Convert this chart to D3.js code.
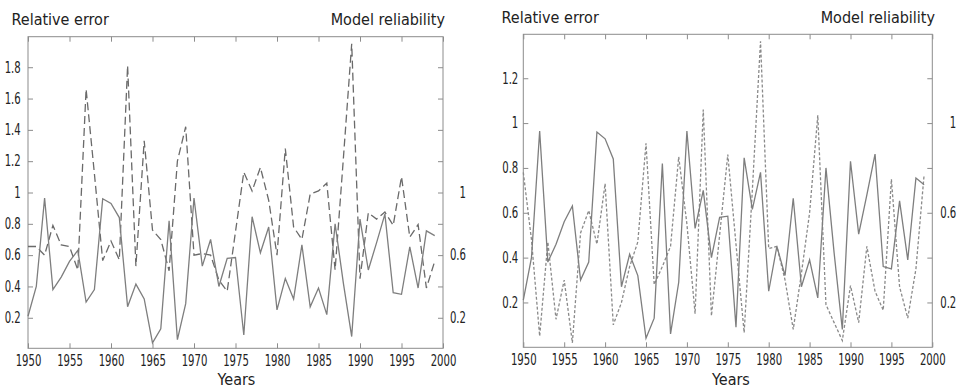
<!DOCTYPE html>
<html><head><meta charset="utf-8">
<script src="https://cdn.jsdelivr.net/npm/d3@7"></script>
<style>
body{margin:0;background:#fff}
svg{display:block}
text{font-family:"DejaVu Sans Condensed","DejaVu Sans",sans-serif;fill:#222}
</style>
</head><body>
<svg id="c" width="959" height="392"></svg>
<script>
const years=[1950,1951,1952,1953,1954,1955,1956,1957,1958,1959,1960,1961,1962,1963,1964,1965,1966,1967,1968,1969,1970,1971,1972,1973,1974,1975,1976,1977,1978,1979,1980,1981,1982,1983,1984,1985,1986,1987,1988,1989,1990,1991,1992,1993,1994,1995,1996,1997,1998,1999];
const relativeError=[0.21,0.40,0.965,0.38,0.46,0.56,0.63,0.30,0.38,0.96,0.93,0.84,0.27,0.415,0.32,0.04,0.13,0.82,0.06,0.29,0.965,0.53,0.70,0.40,0.58,0.585,0.09,0.845,0.615,0.78,0.25,0.45,0.32,0.665,0.27,0.39,0.22,0.80,0.42,0.08,0.83,0.505,0.68,0.862,0.36,0.35,0.653,0.39,0.755,0.725];
const reliabilityLeft=[0.655,0.655,0.60,0.79,0.665,0.655,0.505,1.66,1.12,0.565,0.69,0.57,1.81,0.53,1.33,0.76,0.70,0.50,1.20,1.42,0.60,0.61,0.60,0.44,0.37,0.75,1.13,1.01,1.16,0.95,0.60,1.28,0.78,0.70,0.99,1.01,1.06,0.505,1.22,1.95,0.45,0.87,0.83,0.875,0.79,1.10,0.715,0.795,0.39,0.56];
const reliabilityRight=[0.78,0.48,0.05,0.47,0.125,0.30,0.02,0.51,0.61,0.46,0.73,0.10,0.20,0.36,0.47,0.91,0.28,0.36,0.45,0.85,0.55,0.15,1.06,0.14,0.50,0.86,0.46,0.065,0.70,1.365,0.44,0.45,0.30,0.08,0.33,0.60,1.035,0.19,0.11,0.03,0.275,0.11,0.45,0.25,0.165,0.75,0.27,0.13,0.35,0.77];
const xTicks=[1950,1955,1960,1965,1970,1975,1980,1985,1990,1995,2000];
const yTicksLeftPanel=[0.2,0.4,0.6,0.8,1,1.2,1.4,1.6,1.8];
const yTicksRightPanel=[0.2,0.4,0.6,0.8,1,1.2];
const reliabilityLabels=[0.2,0.6,1];
const titleLeft="Relative error", titleRight="Model reliability", xTitle="Years";

const svg=d3.select("#c");
const axisColor="#8c8c8c";
const fmt=d3.format("~g");
const sx=0.75;

function panel(cfg){
  const x=d3.scaleLinear().domain([1950,2000]).range([cfg.x0,cfg.x1]);
  const y=d3.scaleLinear().domain(cfg.yDomain).range([cfg.yb,cfg.yt]);
  const g=svg.append("g");
  const styleAxis=a=>{
    a.select(".domain").remove();
    a.selectAll(".tick line").attr("stroke",axisColor);
    a.selectAll("text").attr("font-size",15).attr("fill","#222")
      .attr("font-family",'"DejaVu Sans Condensed","DejaVu Sans",sans-serif')
      .attr("transform",`scale(${sx},1)`);
  };
  g.append("g").attr("transform",`translate(0,${cfg.yb})`)
    .call(d3.axisBottom(x).tickValues(xTicks).tickFormat(d3.format("d")).tickSize(-5).tickPadding(7))
    .call(styleAxis);
  g.append("g").attr("transform",`translate(0,${cfg.yt})`)
    .call(d3.axisTop(x).tickValues(xTicks).tickFormat("").tickSize(-5))
    .call(styleAxis);
  g.append("g").attr("transform",`translate(${cfg.x0},0)`)
    .call(d3.axisLeft(y).tickValues(cfg.yTicks).tickFormat(fmt).tickSize(-5).tickPadding(cfg.leftGap/sx))
    .call(styleAxis);
  const ra=g.append("g").attr("transform",`translate(${cfg.x1},0)`)
    .call(d3.axisRight(y).tickValues(cfg.yTicks).tickFormat(d=>reliabilityLabels.includes(d)?fmt(d):"").tickSize(-5))
    .call(styleAxis);
  ra.selectAll("text").attr("text-anchor","end").attr("x",cfg.rightEnd/sx);
  g.append("rect").attr("x",cfg.x0).attr("y",cfg.yt)
    .attr("width",cfg.x1-cfg.x0).attr("height",cfg.yb-cfg.yt)
    .attr("fill","none").attr("stroke",axisColor).attr("stroke-width",1);
  const line=d3.line().x((d,i)=>x(years[i])).y(d=>y(d));
  g.append("path").datum(cfg.rel).attr("d",line)
    .attr("fill","none").attr("stroke",cfg.relColor).attr("stroke-width",cfg.relWidth)
    .attr("stroke-dasharray",cfg.dash);
  g.append("path").datum(relativeError).attr("d",line)
    .attr("fill","none").attr("stroke","#7e7e7e").attr("stroke-width",1.3);
  g.append("text").attr("x",cfg.tl).attr("y",cfg.ty).attr("font-size",16).text(titleLeft);
  g.append("text").attr("x",cfg.tr).attr("y",cfg.ty).attr("font-size",16).attr("text-anchor","end").text(titleRight);
  g.append("text").attr("x",cfg.xc).attr("y",385).attr("font-size",16).attr("text-anchor","middle").text(xTitle);
}

panel({x0:28,x1:443,yt:36.7,yb:348.3,yDomain:[0.005,1.995],yTicks:yTicksLeftPanel,
  leftGap:7.3,rightEnd:23,rel:reliabilityLeft,relColor:"#6a6a6a",relWidth:1.3,dash:"8,4",
  tl:11.5,tr:445,ty:25,xc:236.5});
panel({x0:523.3,x1:932.3,yt:34.3,yb:347.3,yDomain:[0,1.396],yTicks:yTicksRightPanel,
  leftGap:5,rightEnd:24,rel:reliabilityRight,relColor:"#8a8a8a",relWidth:1.3,dash:"3,2",
  tl:501.5,tr:935,ty:23.3,xc:731});
</script>
</body></html>
